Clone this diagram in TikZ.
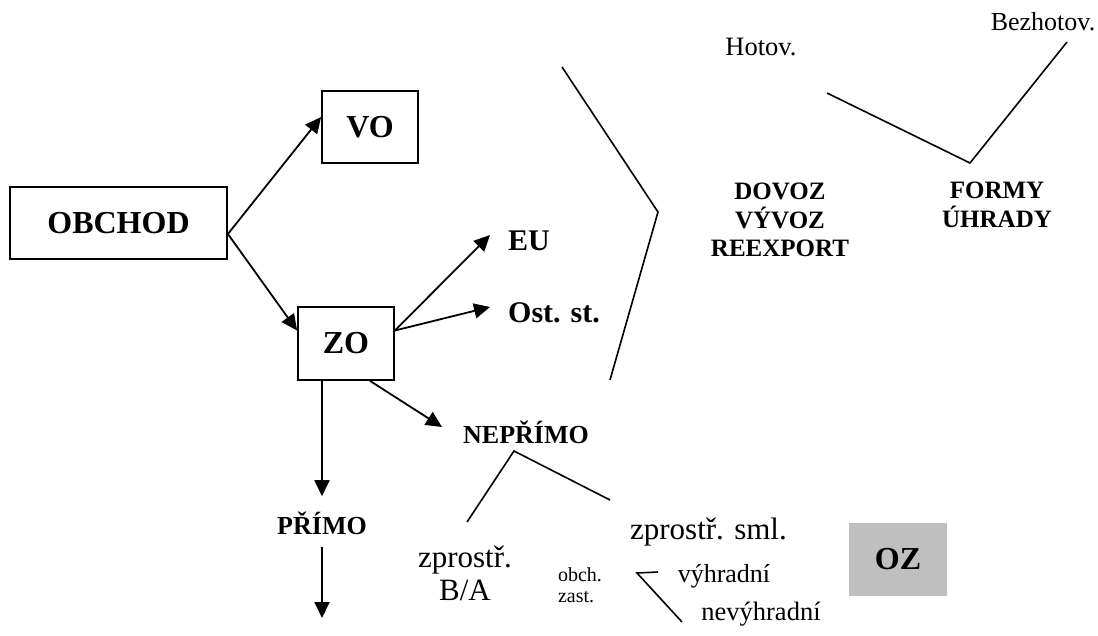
\documentclass[tikz,border=0pt]{standalone}
\usepackage{fontspec}
\setmainfont{Liberation Serif}
\usepackage{tikz}
\usetikzlibrary{arrows.meta}
\definecolor{ozgray}{rgb}{.75,.75,.75}
\tikzstyle{block} = [rectangle, draw, line width=1.8pt, inner sep=0pt,
    font=\bfseries\fontsize{32}{36}\selectfont]
\tikzstyle{heading} = [inner sep=0pt, font=\bfseries\fontsize{30}{34}\selectfont]
\tikzstyle{subheading} = [inner sep=0pt, align=center,
    font=\bfseries\fontsize{25}{28.5}\selectfont]
\tikzstyle{note} = [inner sep=0pt, font=\fontsize{26}{30}\selectfont]
\tikzstyle{line} = [draw, line width=1.8pt, -{Triangle[length=16pt,width=15pt]}]
\tikzstyle{bracket} = [draw, line width=1.6pt]

\begin{document}
\begin{tikzpicture}[x=1pt, y=-1pt]
    \useasboundingbox (0,0) rectangle (1098,635);
    % Place nodes
    \node [block, minimum width=217pt, minimum height=72pt] (obchod) at (118.5,223) {OBCHOD};
    \node [block, minimum width=96pt, minimum height=72pt] (vo) at (370,127) {VO};
    \node [block, minimum width=96pt, minimum height=73pt] (zo) at (346,343.5) {ZO};
    \node [block, draw=none, fill=ozgray, minimum width=98pt, minimum height=73pt] (oz) at (898,559.5) {OZ};
    \node [heading, anchor=west] (eu) at (508,241) {EU};
    \node [heading, anchor=west] (ost) at (508,313) {Ost. st.};
    \node [subheading, font=\bfseries\fontsize{26}{28}\selectfont, anchor=west] (neprimo) at (463,432) {NEPŘÍMO};
    \node [subheading, font=\bfseries\fontsize{26}{28}\selectfont, anchor=base] (primo) at (322,534) {PŘÍMO};
    \node [subheading] (dovoz) at (780,220) {DOVOZ\\VÝVOZ\\REEXPORT};
    \node [subheading] (formy) at (997,205) {FORMY\\ÚHRADY};
    \node [note, font=\fontsize{26.5}{30}\selectfont] (hotov) at (761,47) {Hotov.};
    \node [note] (bezhotov) at (1043,22) {Bezhotov.};
    \node [note, align=center, font=\fontsize{31}{33}\selectfont] (zprba) at (465,573) {zprostř.\\B/A};
    \node [note, font=\fontsize{31}{33}\selectfont] (zprsml) at (708.5,532) {zprostř. sml.};
    \node [note, align=left, font=\fontsize{20}{21}\selectfont] (obchzast) at (580,585) {obch.\\zast.};
    \node [note] (vyhr) at (724,576) {výhradní};
    \node [note, font=\fontsize{26.5}{30}\selectfont] (nevyhr) at (761,614) {nevýhradní};
    \coordinate (primoend) at (322,618);
    % Corner points of the plain brackets
    \coordinate (br1) at (562,67);
    \coordinate (br2) at (658,212);
    \coordinate (br3) at (610,380);
    \coordinate (hb1) at (827,93);
    \coordinate (hb2) at (970,163);
    \coordinate (hb3) at (1067,42);
    \coordinate (nb1) at (467,522);
    \coordinate (nb2) at (514,451);
    \coordinate (nb3) at (610,500);
    \coordinate (ob1) at (658,572);
    \coordinate (ob2) at (637,573);
    \coordinate (ob3) at (682,622);
    % Draw edges
    \path [line] ([yshift=-11pt]obchod.east) -- ([yshift=10pt]vo.west);
    \path [line] ([yshift=-11pt]obchod.east) -- ([yshift=13pt]zo.west);
    \path [line] ([yshift=13pt]zo.east) -- ([xshift=-18pt,yshift=6pt]eu.west);
    \path [line] ([yshift=13pt]zo.east) -- ([xshift=-18pt,yshift=6pt]ost.west);
    \path [line] ([xshift=24pt]zo.south) -- ([xshift=-21pt,yshift=5pt]neprimo.west);
    \path [line] ([xshift=-24pt]zo.south) -- ([yshift=15pt]primo.north);
    \path [line] ([yshift=-13pt]primo.south) -- (primoend);
    % Brackets
    \path [bracket] (br1) -- (br2) -- (br3);
    \path [bracket] (hb1) -- (hb2) -- (hb3);
    \path [bracket] (nb1) -- (nb2) -- (nb3);
    \path [bracket] (ob1) -- (ob2) -- (ob3);
\end{tikzpicture}
\end{document}
